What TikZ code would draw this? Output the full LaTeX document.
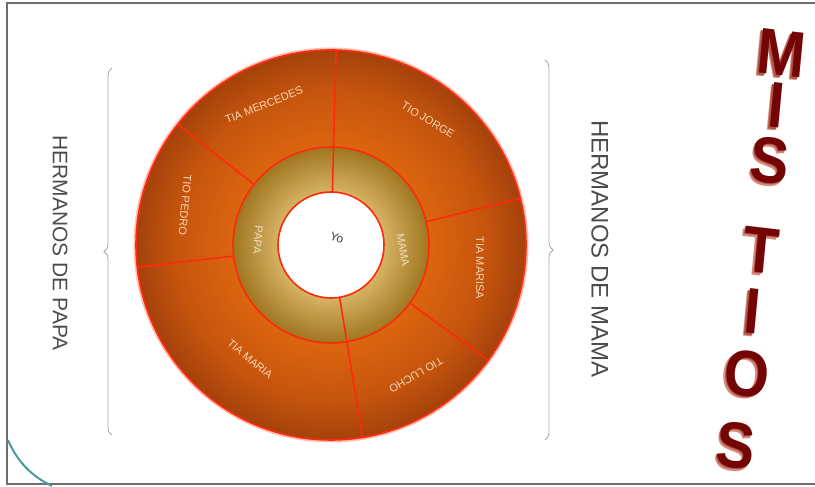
\documentclass[tikz,border=0pt]{standalone}
\usepackage{fontspec}
\setmainfont{Liberation Sans}
\usetikzlibrary{decorations.pathreplacing,calc}

\definecolor{tiosorange}{HTML}{DA640F}
\definecolor{tiosmid}{HTML}{C5540D}
\definecolor{tiosdark}{HTML}{A4420C}
\definecolor{goldlight}{HTML}{D4B062}
\definecolor{golddark}{HTML}{A07620}
\definecolor{ringred}{HTML}{FF2A0A}
\definecolor{segtext}{HTML}{F6D6B0}
\definecolor{titlered}{HTML}{740505}
\definecolor{titleshade}{HTML}{D68A78}
\definecolor{slidegray}{HTML}{6E6E6E}
\definecolor{slideteal}{HTML}{4A9A9A}

\pgfdeclareradialshading{tiosring}{\pgfpoint{0bp}{0bp}}{color(0bp)=(tiosorange); color(13bp)=(tiosorange); color(20bp)=(tiosmid); color(25bp)=(tiosdark); color(50bp)=(tiosdark)}
\pgfdeclareradialshading{padres}{\pgfpoint{0bp}{0bp}}{color(0bp)=(goldlight); color(14bp)=(goldlight); color(25bp)=(golddark); color(50bp)=(golddark)}

\newcommand{\tiosthree}[1]{\makebox[0pt][l]{\hspace{-2.5pt}\raisebox{-2.5pt}{\color{titleshade}#1}}\makebox[0pt][l]{\hspace{-1.2pt}\raisebox{-1.2pt}{\color{titleshade!60!titlered}#1}}#1}

\begin{document}
\begin{tikzpicture}[x=1pt,y=1pt,
  divline/.style={ringred,line width=1.6pt},
  seglabel/.style={text=segtext,font=\fontsize{11}{11}\selectfont,inner sep=0pt},
  sidelabel/.style={text=black!70,inner sep=0pt},
  sidebrace/.style={black!35,line width=0.8pt,decorate,decoration={brace,amplitude=8pt}},
  tiosletter/.style={text=titlered,font=\bfseries\fontsize{58}{58}\selectfont,yscale=1.12,rotate=-6,inner sep=0pt}]
\useasboundingbox (0,0) rectangle (815,487);
%\draw[help lines] (0,0) grid[step=50] (815,487);
\coordinate (C) at (331,242);
% slide frame
\draw[slidegray,line width=2pt] (816,484) -- (7,484) -- (7,3) -- (816,3);
\draw[slideteal,line width=2pt] (8,47) .. controls (17,26) and (31,11) .. (52,1);
%
% rings
\shade[shading=tiosring] (C) circle (195);
\shade[shading=padres] (C) circle (98);
\fill[white] (C) circle (53);
\begin{scope}[shift={(C)}]
\foreach \a in {13.8,-36.3,141.8,186.5} % tios
\draw[divline] (\a:98) -- (\a:195);
\foreach \a in {88.5,279.3} % papa / mama
\draw[divline] (\a:53) -- (\a:195);
\draw[divline] (0,0) circle (98);
\draw[divline] (0,0) circle (53);
\draw[ringred!60,line width=3pt,opacity=.5] (0,0) circle (196);
\draw[ringred,line width=1.6pt] (0,0) circle (195);
\end{scope}
%
\node[text=black!75,font=\fontsize{12}{12}\selectfont,rotate=-20] (yo) at (337,249) {Yo};
\node[seglabel,text=goldlight!40!white,rotate=-95] (papa) at (258,247) {PAPA};
\node[seglabel,text=goldlight!40!white,rotate=-80] (mama) at (403,237) {MAMA};
\node[seglabel,rotate=22] (mercedes) at (264,382) {TIA MERCEDES};
\node[seglabel,rotate=-31] (jorge) at (428,367) {TIO JORGE};
\node[seglabel,rotate=-90] (marisa) at (480,219) {TIA MARISA};
\node[seglabel,rotate=210] (lucho) at (416,112) {TIO LUCHO};
\node[seglabel,rotate=-40] (maria) at (250,128) {TIA MARIA};
\node[seglabel,rotate=-95] (pedro) at (185,282) {TIO PEDRO};
%
% braces and side texts
\coordinate (BL1) at (112,52);
\coordinate (BL2) at (112,419);
\coordinate (BR1) at (545,427);
\coordinate (BR2) at (545,47);
\draw[sidebrace] (BL1) -- (BL2);
\draw[sidebrace] (BR1) -- (BR2);
\node[sidelabel,font=\fontsize{21}{21}\selectfont,rotate=-90] (hpapa) at (60,244) {HERMANOS DE PAPA};
\node[sidelabel,font=\fontsize{24}{24}\selectfont,rotate=-90] (hmama) at (600,238) {HERMANOS DE MAMA};
%
% title
\foreach \l/\x/\y [count=\i] in {M/781/432,I/776/380,S/770/325,T/761/235,I/752/174,O/747/112,S/736/40}
\node[tiosletter] (tit\i) at (\x,\y) {\tiosthree{\l}};
\end{tikzpicture}
\end{document}
